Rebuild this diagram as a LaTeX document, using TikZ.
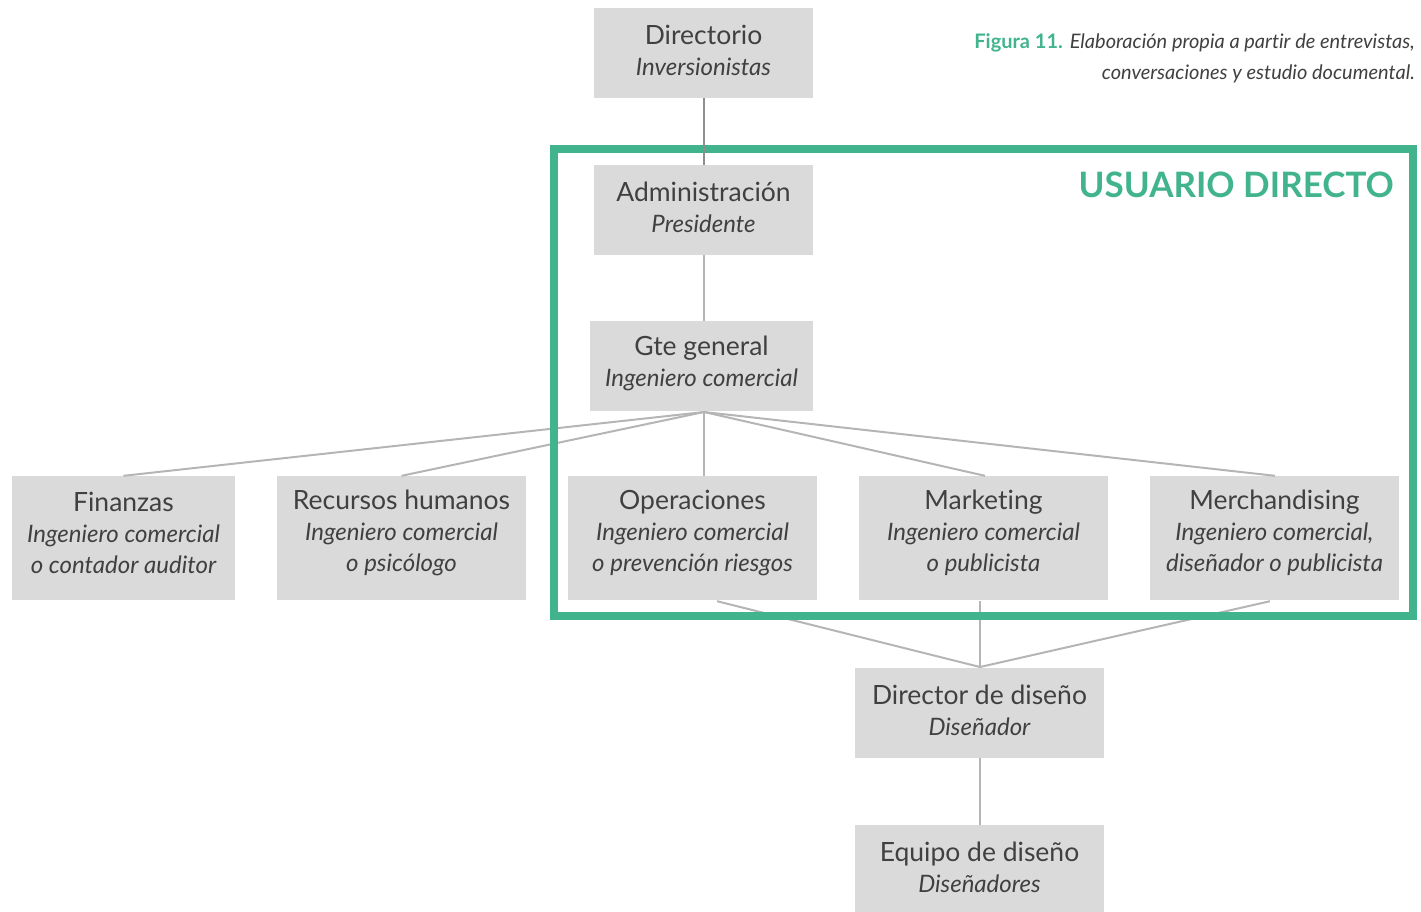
\documentclass[tikz,border=0pt]{standalone}
\usepackage{fontspec}
\setmainfont[Ligatures={NoCommon}]{Lato}
\usetikzlibrary{calc}
\definecolor{boxgray}{HTML}{DADADA}
\definecolor{linegray}{HTML}{B5B5B5}
\definecolor{darkline}{HTML}{8E8E8E}
\definecolor{txt}{HTML}{404040}
\definecolor{grn}{HTML}{41B48D}
\newcommand{\sub}[1]{{\fontsize{24}{31}\selectfont\itshape #1}}
\tikzset{
  orgbox/.style={fill=boxgray, draw=none, inner sep=0pt},
  boxtext/.style={align=center, text=txt, inner sep=0pt, yshift=3,
    font=\fontsize{26.5}{31}\selectfont},
  conn/.style={draw=linegray, line width=2pt},
}
\begin{document}
\begin{tikzpicture}[x=1pt,y=-1pt]
\useasboundingbox (0,0) rectangle (1421,911);
% boxes
\node[orgbox, minimum width=219, minimum height=90, label={[boxtext]center:Directorio\\\sub{Inversionistas}}] (dir) at (703.5,53) {};
\node[orgbox, minimum width=219, minimum height=90, label={[boxtext]center:Administración\\\sub{Presidente}}] (adm) at (703.5,210) {};
\node[orgbox, minimum width=223, minimum height=90, label={[boxtext]center:Gte general\\\sub{Ingeniero comercial}}] (gte) at (701.5,366) {};
\node[orgbox, minimum width=223, minimum height=124, label={[boxtext,yshift=2]center:Finanzas\\\sub{Ingeniero comercial}\\\sub{o contador auditor}}] (fin) at (123.5,538) {};
\node[orgbox, minimum width=249, minimum height=124, label={[boxtext,yshift=2]center:Recursos humanos\\\sub{Ingeniero comercial}\\\sub{o psicólogo}}] (rrhh) at (401.5,538) {};
\node[orgbox, minimum width=249, minimum height=124, label={[boxtext,yshift=2]center:Operaciones\\\sub{Ingeniero comercial}\\\sub{o prevención riesgos}}] (ope) at (692.5,538) {};
\node[orgbox, minimum width=249, minimum height=124, label={[boxtext,yshift=2]center:Marketing\\\sub{Ingeniero comercial}\\\sub{o publicista}}] (mkt) at (983.5,538) {};
\node[orgbox, minimum width=249, minimum height=124, label={[boxtext,yshift=2]center:Merchandising\\\sub{Ingeniero comercial,}\\\sub{diseñador o publicista}}] (mer) at (1274.5,538) {};
\node[orgbox, minimum width=249, minimum height=90, label={[boxtext]center:Director de diseño\\\sub{Diseñador}}] (dd) at (979.5,713) {};
\node[orgbox, minimum width=249, minimum height=90, label={[boxtext]center:Equipo de diseño\\\sub{Diseñadores}}] (eq) at (979.5,870) {};
% fan coordinates
\coordinate (fan) at (704,412);
\coordinate (join) at (980,667);
% connectors
\draw[conn] (adm.south -| fan) -- (gte.north -| fan);
\draw[conn] (fan) -- (fin.north);
\draw[conn] (fan) -- (rrhh.north);
\draw[conn] (fan) -- (ope.north -| fan);
\draw[conn] (fan) -- ($(mkt.north)+(1.5,0)$);
\draw[conn] (fan) -- ($(mer.north)+(0.5,0)$);
\draw[conn] ($(ope.south)+(24.5,1)$) -- (join);
\draw[conn] ($(mkt.south -| join)+(0,1)$) -- (join);
\draw[conn] ($(mer.south)+(-4.5,1)$) -- (join);
\draw[conn] (dd.south -| join) -- (eq.north -| join);
% green frame
\draw[draw=grn, line width=8pt] (554,149) rectangle (1413,616);
\draw[draw=darkline, line width=2pt] (dir.south -| fan) -- (adm.north -| fan);
\node[anchor=base east, text=grn, font=\fontsize{35}{35}\selectfont\bfseries, inner sep=0pt] (usr) at (1394,197) {USUARIO DIRECTO};
% caption
\node[anchor=north east, align=right, inner sep=0pt, text=txt, font=\fontsize{20}{31}\selectfont] (cap) at (1415,33)
  {{\color{grn}\bfseries Figura 11.} \textit{Elaboración propia a partir de entrevistas,}\\\textit{conversaciones y estudio documental.}};
\end{tikzpicture}
\end{document}
